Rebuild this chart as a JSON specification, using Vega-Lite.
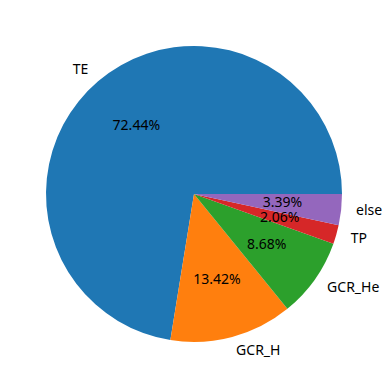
{
  "$schema": "https://vega.github.io/schema/vega-lite/v6.json",
  "width": 388,
  "height": 388,
  "padding": {"left": 0, "top": 0, "right": 4, "bottom": 1},
  "autosize": {"type": "none"},
  "background": "white",
  "config": {"view": {"stroke": null}},
  "data": {
    "values": [
      {"idx": 1, "label": "TE", "value": 72.44, "pct": "72.44%"},
      {"idx": 2, "label": "GCR_H", "value": 13.42, "pct": "13.42%"},
      {"idx": 3, "label": "GCR_He", "value": 8.68, "pct": "8.68%"},
      {"idx": 4, "label": "TP", "value": 2.06, "pct": "2.06%"},
      {"idx": 5, "label": "else", "value": 3.39, "pct": "3.39%"}
    ]
  },
  "encoding": {
    "theta": {"field": "value", "type": "quantitative", "stack": true, "scale": {"range": [7.853982, 1.570796]}},
    "order": {"field": "idx", "type": "quantitative"}
  },
  "layer": [
    {
      "mark": {"type": "arc", "outerRadius": 148},
      "encoding": {
        "color": {
          "field": "label", "type": "nominal", "legend": null,
          "scale": {"domain": ["TE", "GCR_H", "GCR_He", "TP", "else"], "range": ["#1f77b4", "#ff7f0e", "#2ca02c", "#d62728", "#9467bd"]}
        }
      }
    },
    {
      "mark": {"type": "text", "radius": 89, "font": "Noto Sans", "fontSize": 14, "color": "black", "baseline": "middle", "align": "center"},
      "encoding": {"text": {"field": "pct"}}
    },
    {
      "mark": {"type": "text", "radius": 163, "font": "Noto Sans", "fontSize": 14, "color": "black", "baseline": "middle", "align": {"expr": "datum.label === 'TE' ? 'right' : 'left'"}},
      "encoding": {
        "text": {"field": "label"}
      }
    }
  ]
}
